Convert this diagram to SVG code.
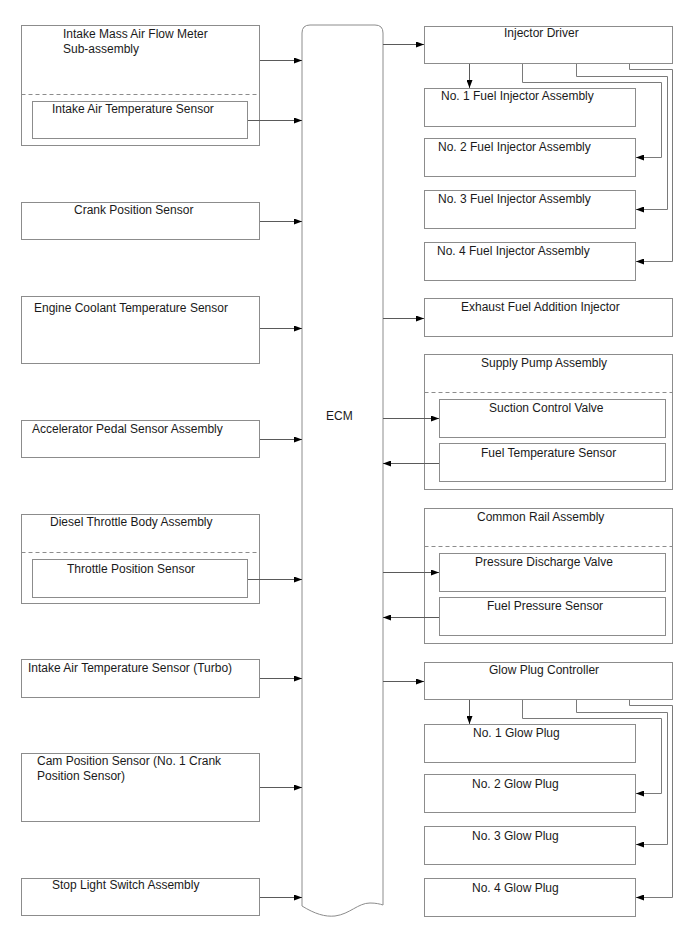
<svg xmlns="http://www.w3.org/2000/svg" width="688" height="949" viewBox="0 0 688 949">
<style>
.box{fill:#fff;stroke:#8c8c8c;stroke-width:1}
.dash{fill:none;stroke:#8c8c8c;stroke-width:1;stroke-dasharray:4,3}
.t{font-family:"Liberation Sans",Arial,sans-serif;font-size:12px;fill:#1a1a1a}
.c{fill:none;stroke:#5a5a5a;stroke-width:1}
.w{fill:none;stroke:#7a7a7a;stroke-width:1}
</style>
<defs>
<marker id="ah" viewBox="0 0 8 6" refX="8" refY="3" markerWidth="8" markerHeight="6" markerUnits="userSpaceOnUse" orient="auto">
<path d="M0,0 L8,3 L0,6 Z" fill="#000"/>
</marker>
</defs>
<rect width="688" height="949" fill="#fff"/>

<g id="ecm">
<path class="box" d="M302,33 Q302,25 310,25 L375,25 Q383,25 383,33 L383,905 C380,904 376,903 370,903 C358,903 350,914 335,916 C325,917 315,914 302,906 Z"/>
<text class="t" x="326" y="420">ECM</text>
</g>

<g id="maf">
<rect class="box" x="21.5" y="25.5" width="238" height="120"/>
<text class="t" x="63" y="38">Intake Mass Air Flow Meter</text>
<text class="t" x="63" y="53">Sub-assembly</text>
<line class="dash" x1="21.5" y1="94.5" x2="259.5" y2="94.5"/>
</g>
<g id="iat">
<rect class="box" x="32.5" y="101.5" width="215" height="37"/>
<text class="t" x="52" y="113">Intake Air Temperature Sensor</text>
</g>
<g id="crank">
<rect class="box" x="21.5" y="202.5" width="238" height="37"/>
<text class="t" x="74" y="214">Crank Position Sensor</text>
</g>
<g id="ect">
<rect class="box" x="21.5" y="296.5" width="238" height="67"/>
<text class="t" x="34" y="312">Engine Coolant Temperature Sensor</text>
</g>
<g id="accel">
<rect class="box" x="21.5" y="420.5" width="238" height="37"/>
<text class="t" x="32" y="433">Accelerator Pedal Sensor Assembly</text>
</g>
<g id="throttle-body">
<rect class="box" x="21.5" y="514.5" width="238" height="89"/>
<text class="t" x="50" y="526">Diesel Throttle Body Assembly</text>
<line class="dash" x1="21.5" y1="552.5" x2="259.5" y2="552.5"/>
</g>
<g id="tps">
<rect class="box" x="32.5" y="559.5" width="215" height="38"/>
<text class="t" x="67" y="573">Throttle Position Sensor</text>
</g>
<g id="iat-turbo">
<rect class="box" x="21.5" y="659.5" width="238" height="38"/>
<text class="t" x="28" y="672">Intake Air Temperature Sensor (Turbo)</text>
</g>
<g id="cam">
<rect class="box" x="21.5" y="753.5" width="238" height="68"/>
<text class="t" x="37" y="765">Cam Position Sensor (No. 1 Crank</text>
<text class="t" x="37" y="780">Position Sensor)</text>
</g>
<g id="stop">
<rect class="box" x="21.5" y="878.5" width="238" height="37"/>
<text class="t" x="52" y="889">Stop Light Switch Assembly</text>
</g>

<g id="inj-driver">
<rect class="box" x="424.5" y="26.5" width="248" height="37"/>
<text class="t" x="504" y="37">Injector Driver</text>
</g>
<g id="inj1">
<rect class="box" x="424.5" y="88.5" width="211" height="38"/>
<text class="t" x="441" y="100">No. 1 Fuel Injector Assembly</text>
</g>
<g id="inj2">
<rect class="box" x="424.5" y="138.5" width="211" height="38"/>
<text class="t" x="438" y="151">No. 2 Fuel Injector Assembly</text>
</g>
<g id="inj3">
<rect class="box" x="424.5" y="190.5" width="211" height="38"/>
<text class="t" x="438" y="203">No. 3 Fuel Injector Assembly</text>
</g>
<g id="inj4">
<rect class="box" x="424.5" y="242.5" width="211" height="38"/>
<text class="t" x="437" y="255">No. 4 Fuel Injector Assembly</text>
</g>
<g id="exhaust-inj">
<rect class="box" x="424.5" y="298.5" width="248" height="38"/>
<text class="t" x="461" y="311">Exhaust Fuel Addition Injector</text>
</g>
<g id="supply-pump">
<rect class="box" x="424.5" y="354.5" width="248" height="135"/>
<text class="t" x="481" y="367">Supply Pump Assembly</text>
<line class="dash" x1="424.5" y1="392.5" x2="672.5" y2="392.5"/>
</g>
<g id="scv">
<rect class="box" x="439.5" y="399.5" width="226" height="38"/>
<text class="t" x="489" y="412">Suction Control Valve</text>
</g>
<g id="fts">
<rect class="box" x="439.5" y="443.5" width="226" height="38"/>
<text class="t" x="481" y="457">Fuel Temperature Sensor</text>
</g>
<g id="common-rail">
<rect class="box" x="424.5" y="508.5" width="248" height="135"/>
<text class="t" x="477" y="521">Common Rail Assembly</text>
<line class="dash" x1="424.5" y1="546.5" x2="672.5" y2="546.5"/>
</g>
<g id="pdv">
<rect class="box" x="439.5" y="553.5" width="226" height="38"/>
<text class="t" x="475" y="566">Pressure Discharge Valve</text>
</g>
<g id="fps">
<rect class="box" x="439.5" y="597.5" width="226" height="38"/>
<text class="t" x="487" y="610">Fuel Pressure Sensor</text>
</g>
<g id="glow-ctrl">
<rect class="box" x="424.5" y="662.5" width="248" height="37"/>
<text class="t" x="489" y="674">Glow Plug Controller</text>
</g>
<g id="glow1">
<rect class="box" x="424.5" y="724.5" width="211" height="38"/>
<text class="t" x="473" y="737">No. 1 Glow Plug</text>
</g>
<g id="glow2">
<rect class="box" x="424.5" y="774.5" width="211" height="38"/>
<text class="t" x="472" y="788">No. 2 Glow Plug</text>
</g>
<g id="glow3">
<rect class="box" x="424.5" y="826.5" width="211" height="38"/>
<text class="t" x="472" y="840">No. 3 Glow Plug</text>
</g>
<g id="glow4">
<rect class="box" x="424.5" y="878.5" width="211" height="38"/>
<text class="t" x="472" y="892">No. 4 Glow Plug</text>
</g>

<g id="connectors">
<line class="c" x1="260" y1="60.5" x2="302" y2="60.5" marker-end="url(#ah)"/>
<line class="c" x1="248" y1="120.5" x2="302" y2="120.5" marker-end="url(#ah)"/>
<line class="c" x1="260" y1="221.5" x2="302" y2="221.5" marker-end="url(#ah)"/>
<line class="c" x1="260" y1="328.5" x2="302" y2="328.5" marker-end="url(#ah)"/>
<line class="c" x1="260" y1="439.5" x2="302" y2="439.5" marker-end="url(#ah)"/>
<line class="c" x1="248" y1="579.5" x2="302" y2="579.5" marker-end="url(#ah)"/>
<line class="c" x1="260" y1="678.5" x2="302" y2="678.5" marker-end="url(#ah)"/>
<line class="c" x1="260" y1="787.5" x2="302" y2="787.5" marker-end="url(#ah)"/>
<line class="c" x1="260" y1="897.5" x2="302" y2="897.5" marker-end="url(#ah)"/>

<line class="c" x1="383" y1="44.5" x2="424" y2="44.5" marker-end="url(#ah)"/>
<line class="c" x1="383" y1="318.5" x2="424" y2="318.5" marker-end="url(#ah)"/>
<line class="c" x1="383" y1="418.5" x2="439" y2="418.5" marker-end="url(#ah)"/>
<line class="c" x1="439" y1="463.5" x2="383" y2="463.5" marker-end="url(#ah)"/>
<line class="c" x1="383" y1="572.5" x2="439" y2="572.5" marker-end="url(#ah)"/>
<line class="c" x1="439" y1="617.5" x2="383" y2="617.5" marker-end="url(#ah)"/>
<line class="c" x1="383" y1="681.5" x2="424" y2="681.5" marker-end="url(#ah)"/>

<line class="c" x1="469.5" y1="64" x2="469.5" y2="88" marker-end="url(#ah)"/>
<polyline class="w" points="522.5,64 522.5,82.5 661.5,82.5 661.5,157.5 636,157.5" marker-end="url(#ah)"/>
<polyline class="w" points="576.5,64 576.5,76.5 667.5,76.5 667.5,209.5 636,209.5" marker-end="url(#ah)"/>
<polyline class="w" points="629.5,64 629.5,69.5 672.5,69.5 672.5,261.5 636,261.5" marker-end="url(#ah)"/>

<line class="c" x1="469.5" y1="700" x2="469.5" y2="724" marker-end="url(#ah)"/>
<polyline class="w" points="522.5,700 522.5,718.5 661.5,718.5 661.5,793.5 636,793.5" marker-end="url(#ah)"/>
<polyline class="w" points="576.5,700 576.5,712.5 667.5,712.5 667.5,844.5 636,844.5" marker-end="url(#ah)"/>
<polyline class="w" points="629.5,700 629.5,705.5 672.5,705.5 672.5,897.5 636,897.5" marker-end="url(#ah)"/>
</g>
</svg>
